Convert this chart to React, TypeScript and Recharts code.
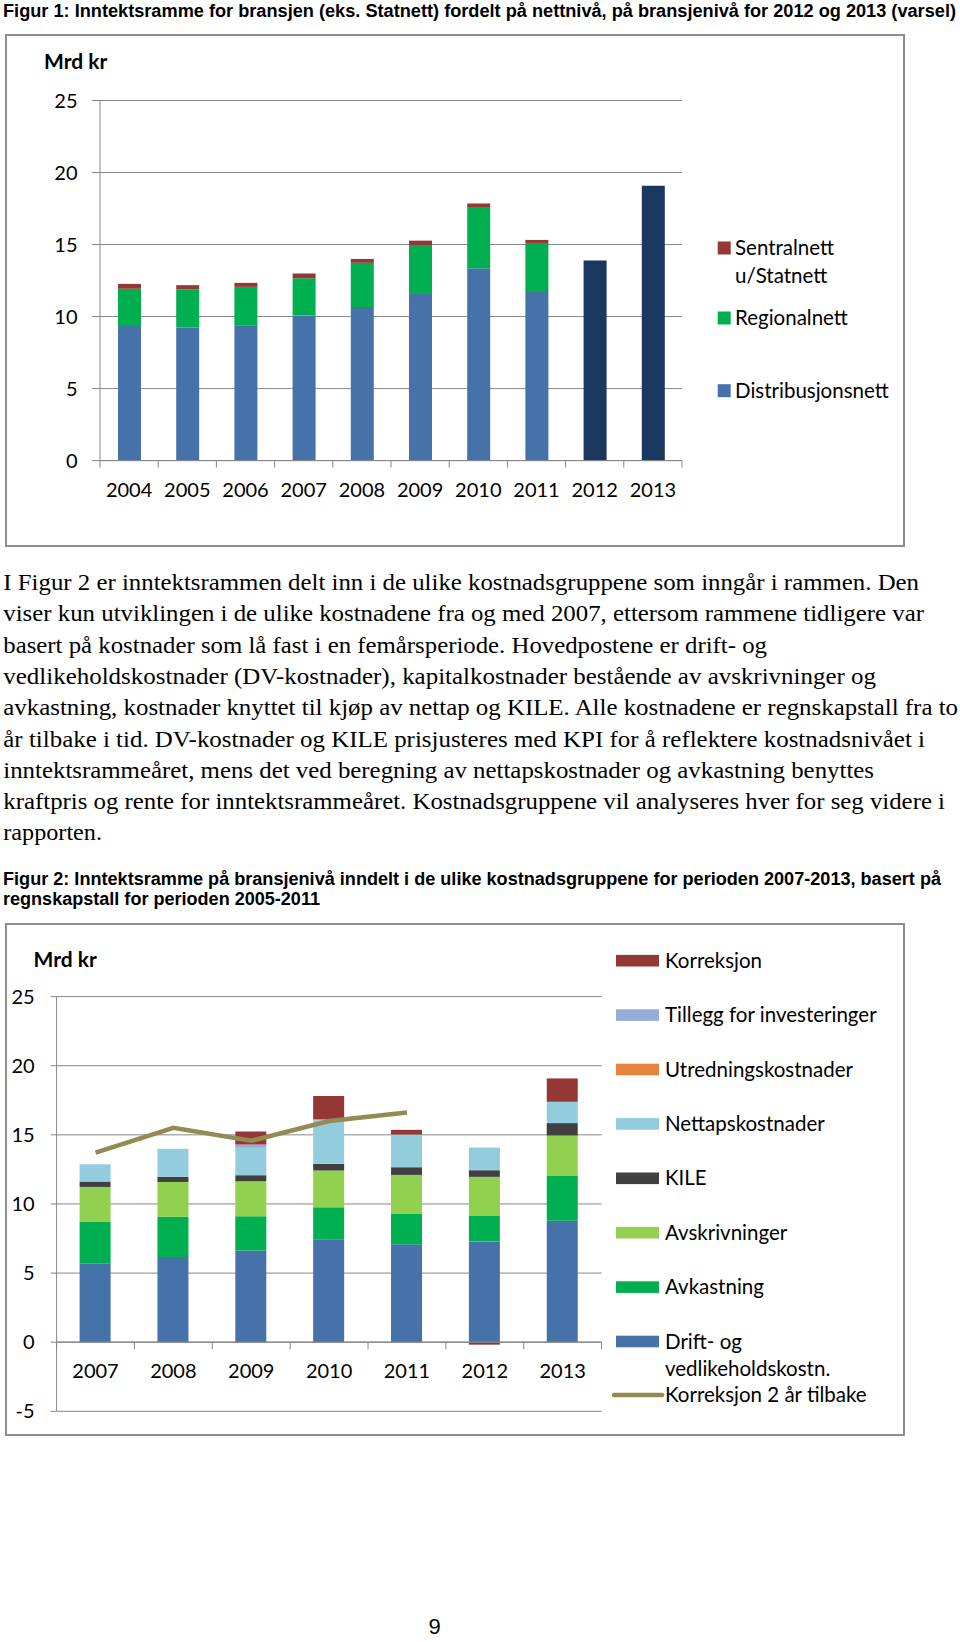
import { BarChart, Bar, ComposedChart, Line, XAxis, YAxis, CartesianGrid, Legend, ReferenceLine } from 'recharts';

// Figur 1 – inntektsramme fordelt på nettnivå (mrd kr)
const years1 = ['2004', '2005', '2006', '2007', '2008', '2009', '2010', '2011', '2012', '2013'];
const distribusjon = [9.34, 9.23, 9.39, 10.08, 10.66, 11.56, 13.36, 11.7, null, null];
const regional = [2.59, 2.65, 2.67, 2.58, 3.07, 3.41, 4.19, 3.41, null, null];
const sentral = [0.34, 0.3, 0.28, 0.33, 0.27, 0.3, 0.3, 0.21, null, null];
const varsel = [null, null, null, null, null, null, null, null, 13.89, 19.08];
const ticks1 = [0, 5, 10, 15, 20, 25];

// Figur 2 – kostnadsgrupper (mrd kr)
const years2 = ['2007', '2008', '2009', '2010', '2011', '2012', '2013'];
const drift = [5.68, 6.16, 6.64, 7.44, 7.08, 7.29, 8.79];
const avkastning = [3.02, 2.92, 2.47, 2.32, 2.2, 1.84, 3.24];
const avskrivninger = [2.53, 2.51, 2.53, 2.66, 2.82, 2.83, 2.92];
const kile = [0.39, 0.37, 0.44, 0.48, 0.56, 0.48, 0.9];
const nettap = [1.25, 2.03, 1.98, 3.16, 2.36, 1.64, 1.54];
const utredning = [0, 0, 0, 0, 0, 0, 0];
const tillegg = [0, 0, 0.24, 0.06, 0, 0, 0];
const korreksjon = [0, 0, 0.94, 1.69, 0.34, -0.18, 1.69];
const korr2aar = [13.72, 15.51, 14.57, 16.0, 16.62, null, null];
const ticks2 = [-5, 0, 5, 10, 15, 20, 25];

const data1 = years1.map((year, i) => ({
  year,
  distribusjon: distribusjon[i],
  regional: regional[i],
  sentral: sentral[i],
  varsel: varsel[i],
}));

const data2 = years2.map((year, i) => ({
  year,
  drift: drift[i],
  avkastning: avkastning[i],
  avskrivninger: avskrivninger[i],
  kile: kile[i],
  nettap: nettap[i],
  utredning: utredning[i],
  tillegg: tillegg[i],
  korreksjon: korreksjon[i],
  korr2aar: korr2aar[i],
}));

const FONT = "Lato, 'Open Sans', sans-serif";
const TICK_FS = 20;
const LEG_FS = 20.5;
const GRID = '#878787';
const C = {
  blue: '#4672AA',
  green: '#00B050',
  red: '#953735',
  navy: '#1A3760',
  lightGreen: '#92D050',
  kile: '#404040',
  nettap: '#93CDDD',
  utredning: '#E6853E',
  tillegg: '#95ADD8',
  line: '#948A54',
};

// layout of the two plots
const P1 = { left: 100, right: 682, top: 100.5, bottom: 460.6 };
const P2 = { left: 56.6, right: 601.6, top: 96.6, bottom: 511.3 };
const band1 = (P1.right - P1.left) / years1.length;
const band2 = (P2.right - P2.left) / years2.length;
const zeroOff2 = ((P2.bottom - P2.top) * 5) / 30;

const TopTick = (props: any) => {
  const { x, y, payload, index } = props;
  const h = band1 / 2;
  return (
    <g>
      {index === 0 && <line x1={x - h} x2={x - h} y1={y} y2={y + 7} stroke={GRID} />}
      <line x1={x + h} x2={x + h} y1={y} y2={y + 7} stroke={GRID} />
      <text x={x} y={y + 29.8} dy="0.35em" textAnchor="middle" fontSize={TICK_FS} fontFamily={FONT} fill="#000">
        {payload.value}
      </text>
    </g>
  );
};

const BottomTick = (props: any) => {
  const { x, y, payload, index } = props;
  const h = band2 / 2;
  const z = y - zeroOff2;
  return (
    <g>
      {index === 0 && <line x1={x - h} x2={x - h} y1={z} y2={z + 7} stroke={GRID} />}
      <line x1={x + h} x2={x + h} y1={z} y2={z + 7} stroke={GRID} />
      <text x={x} y={z + 29} dy="0.35em" textAnchor="middle" fontSize={TICK_FS} fontFamily={FONT} fill="#000">
        {payload.value}
      </text>
    </g>
  );
};

const TopLegend = () => (
  <svg width={960} height={560} style={{ overflow: 'visible' }}>
    <g fontFamily={FONT} fontSize={LEG_FS} fill="#000">
      <rect x={717.7} y={241.5} width={13} height={13} fill={C.red} />
      <text x={735} y={247.7} dy="0.35em">Sentralnett</text>
      <text x={735} y={276} dy="0.35em">u/Statnett</text>
      <rect x={717.7} y={311.5} width={13} height={13} fill={C.green} />
      <text x={735} y={318} dy="0.35em">Regionalnett</text>
      <rect x={717.7} y={384.2} width={13} height={13} fill={C.blue} />
      <text x={735} y={390.7} dy="0.35em">Distribusjonsnett</text>
    </g>
  </svg>
);

const legend2 = [
  { name: 'Korreksjon', color: C.red },
  { name: 'Tillegg for investeringer', color: C.tillegg },
  { name: 'Utredningskostnader', color: C.utredning },
  { name: 'Nettapskostnader', color: C.nettap },
  { name: 'KILE', color: C.kile },
  { name: 'Avskrivninger', color: C.lightGreen },
  { name: 'Avkastning', color: C.green },
  { name: 'Drift- og', color: C.blue },
];

const BottomLegend = () => (
  <svg width={960} height={560} style={{ overflow: 'visible' }}>
    <g fontFamily={FONT} fontSize={LEG_FS} fill="#000">
      {legend2.map((it, i) => {
        const cy = 60.7 + i * 54.4;
        return (
          <g key={it.name}>
            <rect x={616} y={cy - 5.8} width={43} height={11.6} fill={it.color} />
            <text x={665} y={cy} dy="0.35em">{it.name}</text>
          </g>
        );
      })}
      <text x={665} y={469} dy="0.35em">vedlikeholdskostn.</text>
      <line x1={614} x2={662} y1={495} y2={495} stroke={C.line} strokeWidth={4.5} strokeLinecap="round" />
      <text x={665} y={495} dy="0.35em">Korreksjon 2 år tilbake</text>
    </g>
  </svg>
);

const paragraph = [
  ['I Figur 2 er inntektsrammen delt inn i de ulike kostnadsgruppene som inngår i rammen. Den', 919],
  ['viser kun utviklingen i de ulike kostnadene fra og med 2007, ettersom rammene tidligere var', 924],
  ['basert på kostnader som lå fast i en femårsperiode. Hovedpostene er drift- og', 767],
  ['vedlikeholdskostnader (DV-kostnader), kapitalkostnader bestående av avskrivninger og', 876],
  ['avkastning, kostnader knyttet til kjøp av nettap og KILE. Alle kostnadene er regnskapstall fra to', 958],
  ['år tilbake i tid. DV-kostnader og KILE prisjusteres med KPI for å reflektere kostnadsnivået i', 925],
  ['inntektsrammeåret, mens det ved beregning av nettapskostnader og avkastning benyttes', 874],
  ['kraftpris og rente for inntektsrammeåret. Kostnadsgruppene vil analyseres hver for seg videre i', 945],
  ['rapporten.', 102],
] as const;

const frame = (top: number): React.CSSProperties => ({
  position: 'absolute',
  left: 5,
  top,
  width: 900,
  height: 513,
  border: '2px solid #8e8e8e',
  boxSizing: 'border-box',
});

export default function App() {
  return (
    <div style={{ position: 'absolute', left: 0, top: 0, width: 960, height: 1642, background: '#fff', overflow: 'hidden' }}>
      <svg width={960} height={1642} style={{ position: 'absolute', left: 0, top: 0 }}>
        <g fontFamily="'Liberation Sans', Arial, sans-serif" fontWeight="bold" fontSize={17.5} fill="#000">
          <text x={3} y={17} textLength={953} lengthAdjust="spacingAndGlyphs">
            Figur 1: Inntektsramme for bransjen (eks. Statnett) fordelt på nettnivå, på bransjenivå for 2012 og 2013 (varsel)
          </text>
          <text x={3} y={885} textLength={938} lengthAdjust="spacingAndGlyphs">
            Figur 2: Inntektsramme på bransjenivå inndelt i de ulike kostnadsgruppene for perioden 2007-2013, basert på
          </text>
          <text x={3} y={905} textLength={317} lengthAdjust="spacingAndGlyphs">
            regnskapstall for perioden 2005-2011
          </text>
        </g>
        <g fontFamily="'Liberation Serif', 'Times New Roman', serif" fontSize={24} fill="#000">
          {paragraph.map(([line, end], i) => (
            <text key={i} x={3.3} y={590 + i * 31.3} textLength={end - 3.3} lengthAdjust="spacingAndGlyphs">
              {line}
            </text>
          ))}
        </g>
        <text x={434.5} y={1634} textAnchor="middle" fontFamily="'Liberation Sans', Arial, sans-serif" fontSize={22} fill="#000">
          9
        </text>
        <g fontFamily={FONT} fontWeight="bold" fontSize={21} fill="#000">
          <text x={44} y={61.8} dy="0.35em">Mrd kr</text>
          <text x={33.5} y={960} dy="0.35em">Mrd kr</text>
        </g>
      </svg>

      <div style={frame(33.5)} />
      <div style={frame(923.4)} />

      <div style={{ position: 'absolute', left: 0, top: 0 }}>
        <BarChart
          width={960}
          height={560}
          data={data1}
          barSize={23}
          margin={{ top: P1.top, right: 960 - P1.right, bottom: 560 - P1.bottom - 30, left: P1.left - 60 }}
        >
          <CartesianGrid vertical={false} stroke={GRID} strokeWidth={1} />
          <XAxis
            dataKey="year"
            height={30}
            tickSize={0}
            tickMargin={0}
            axisLine={{ stroke: GRID }}
            tick={<TopTick />}
            interval={0}
          />
          <YAxis
            width={60}
            domain={[0, 25]}
            ticks={ticks1}
            interval={0}
            tickSize={8}
            tickMargin={14.5}
            axisLine={{ stroke: GRID }}
            tickLine={{ stroke: GRID }}
            tick={{ fontSize: TICK_FS, fontFamily: FONT, fill: '#000' }}
          />
          <Legend layout="vertical" align="center" verticalAlign="middle" content={TopLegend} wrapperStyle={{ left: 0, top: 0, width: 960, height: 560 }} />
          <Bar dataKey="distribusjon" name="Distribusjonsnett" stackId="a" fill={C.blue} isAnimationActive={false} />
          <Bar dataKey="regional" name="Regionalnett" stackId="a" fill={C.green} isAnimationActive={false} />
          <Bar dataKey="sentral" name="Sentralnett u/Statnett" stackId="a" fill={C.red} isAnimationActive={false} />
          <Bar dataKey="varsel" name="Varsel" stackId="a" fill={C.navy} isAnimationActive={false} />
        </BarChart>
      </div>

      <div style={{ position: 'absolute', left: 0, top: 900 }}>
        <ComposedChart
          width={960}
          height={560}
          data={data2}
          barSize={31}
          stackOffset="sign"
          margin={{ top: P2.top, right: 960 - P2.right, bottom: 560 - P2.bottom - 30, left: P2.left - 40 }}
        >
          <CartesianGrid vertical={false} stroke={GRID} strokeWidth={1} />
          <XAxis dataKey="year" height={30} tickSize={0} tickMargin={0} axisLine={false} tick={<BottomTick />} interval={0} />
          <YAxis
            width={40}
            domain={[-5, 25]}
            ticks={ticks2}
            interval={0}
            tickSize={6}
            tickMargin={16}
            axisLine={{ stroke: GRID }}
            tickLine={{ stroke: GRID }}
            tick={{ fontSize: TICK_FS, fontFamily: FONT, fill: '#000' }}
          />
          <Legend layout="vertical" align="center" verticalAlign="middle" content={BottomLegend} wrapperStyle={{ left: 0, top: 0, width: 960, height: 560 }} />
          <Bar dataKey="drift" name="Drift- og vedlikeholdskostn." stackId="b" fill={C.blue} isAnimationActive={false} />
          <Bar dataKey="avkastning" name="Avkastning" stackId="b" fill={C.green} isAnimationActive={false} />
          <Bar dataKey="avskrivninger" name="Avskrivninger" stackId="b" fill={C.lightGreen} isAnimationActive={false} />
          <Bar dataKey="kile" name="KILE" stackId="b" fill={C.kile} isAnimationActive={false} />
          <Bar dataKey="nettap" name="Nettapskostnader" stackId="b" fill={C.nettap} isAnimationActive={false} />
          <Bar dataKey="utredning" name="Utredningskostnader" stackId="b" fill={C.utredning} isAnimationActive={false} />
          <Bar dataKey="tillegg" name="Tillegg for investeringer" stackId="b" fill={C.tillegg} isAnimationActive={false} />
          <Bar dataKey="korreksjon" name="Korreksjon" stackId="b" fill={C.red} isAnimationActive={false} />
          <ReferenceLine y={0} stroke={GRID} strokeWidth={1.2} />
          <Line
            dataKey="korr2aar"
            name="Korreksjon 2 år tilbake"
            type="linear"
            stroke={C.line}
            strokeWidth={4.5}
            dot={false}
            activeDot={false}
            isAnimationActive={false}
          />
        </ComposedChart>
      </div>
    </div>
  );
}
